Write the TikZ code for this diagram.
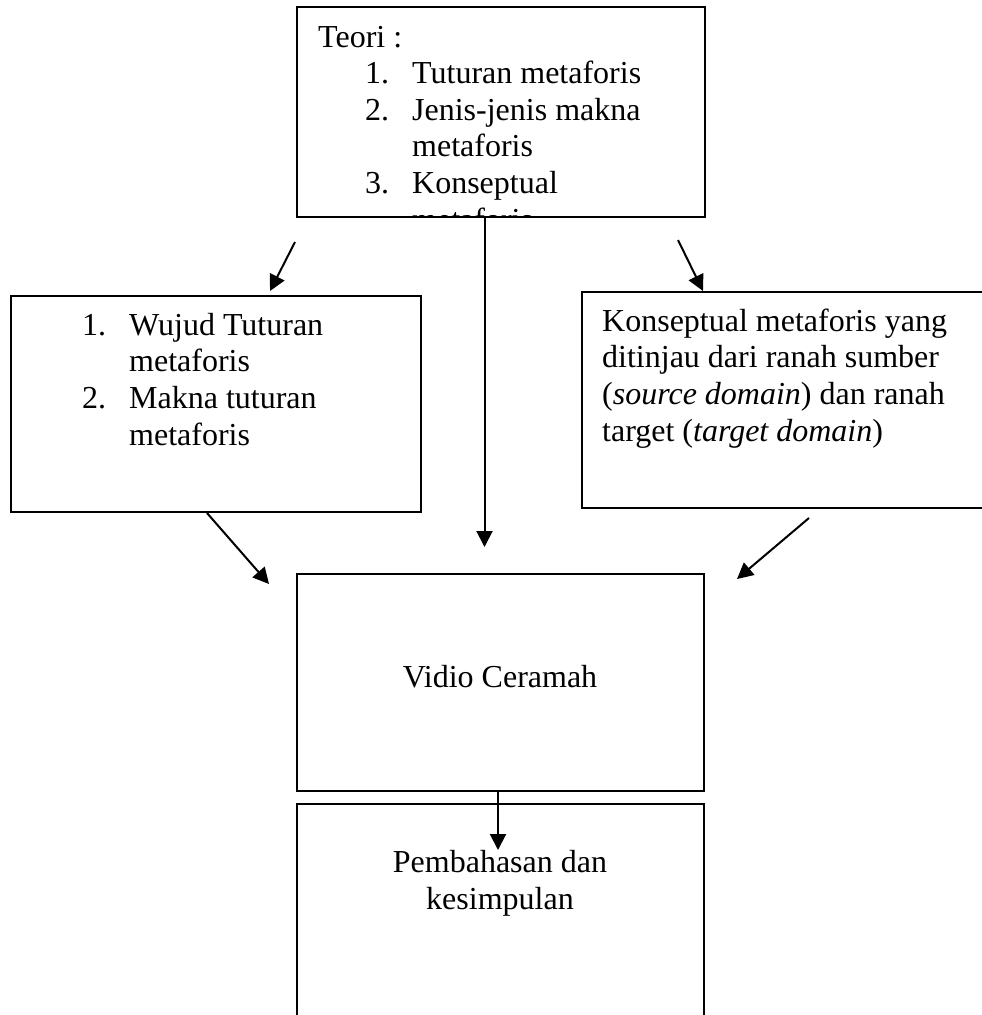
\documentclass[tikz,border=0pt]{standalone}
\usepackage{fontspec}
\setmainfont{Liberation Serif}
\usetikzlibrary{arrows.meta, positioning}

\tikzset{
    box/.style={draw, line width=2.2pt, inner sep=0pt},
    txt/.style={inner sep=0pt, align=left, font=\fontsize{32}{36.6}\selectfont},
    arr/.style={line width=2pt, -{Triangle[length=16pt,width=16pt]}}
}
\newcommand{\itemno}[1]{\makebox[47pt][l]{#1}}

\begin{document}
\begin{tikzpicture}[x=1pt, y=-1pt]
            \useasboundingbox (0,0) rectangle (982,1015);
            \clip (0,0) rectangle (982,1015);

            % Teori box (top), text cut at its lower edge
            \node[box, minimum width=408pt, minimum height=210pt] (teori) at (501,112) {};
            \begin{scope}
                \clip (297,7) rectangle (705,217);
                \node[txt, anchor=base west] (teoritxt) at (318,230) {Teori :\\
                    \hspace*{47pt}\itemno{1.}Tuturan metaforis\\
                    \hspace*{47pt}\itemno{2.}Jenis-jenis makna\\
                    \hspace*{94pt}metaforis\\
                    \hspace*{47pt}\itemno{3.}Konseptual\\
                    \hspace*{94pt}metaforis};
            \end{scope}

            % Wujud box (left)
            \node[box, minimum width=410pt, minimum height=216pt] (wujud) at (216,404) {};
            \node[txt, anchor=base west] (wujudtxt) at (82,445) {\itemno{1.}Wujud Tuturan\\
                \hspace*{47pt}metaforis\\
                \itemno{2.}Makna tuturan\\
                \hspace*{47pt}metaforis};

            % Konseptual box (right)
            \node[box, minimum width=420pt, minimum height=216pt] (konsep) at (792,400) {};
            \node[txt, anchor=base west] (konseptxt) at (602,441) {Konseptual metaforis yang\\
                ditinjau dari ranah sumber\\
                (\textit{source domain}) dan ranah\\
                target (\textit{target domain})};

            % Vidio box (middle)
            \node[box, minimum width=407pt, minimum height=217pt] (vidio) at (500.5,682.5) {};
            \node[txt, anchor=base] (vidiotxt) at (500,687) {Vidio Ceramah};

            % Pembahasan box (bottom)
            \node[box, minimum width=407pt, minimum height=240pt] (bahas) at (500.5,924) {};
            \node[txt, align=center, anchor=base] (bahastxt) at (500,909) {Pembahasan dan\\kesimpulan};

            % arrow ends
            \coordinate (a1s) at (295,242);
            \coordinate (a1e) at (270,291);
            \coordinate (a2s) at (484.5,217);
            \coordinate (a2e) at (484.5,547);
            \coordinate (a3s) at (678,240);
            \coordinate (a3e) at (703,291);
            \coordinate (a4s) at (207,513);
            \coordinate (a4e) at (269,584);
            \coordinate (a5s) at (809,518);
            \coordinate (a5e) at (737,579);
            \coordinate (a6s) at (498,791);
            \coordinate (a6e) at (498,850);

            \draw[arr] (a1s) -- (a1e);
            \draw[arr] (a2s) -- (a2e);
            \draw[arr] (a3s) -- (a3e);
            \draw[arr] (a4s) -- (a4e);
            \draw[arr] (a5s) -- (a5e);
            \draw[arr] (a6s) -- (a6e);
\end{tikzpicture}
\end{document}
